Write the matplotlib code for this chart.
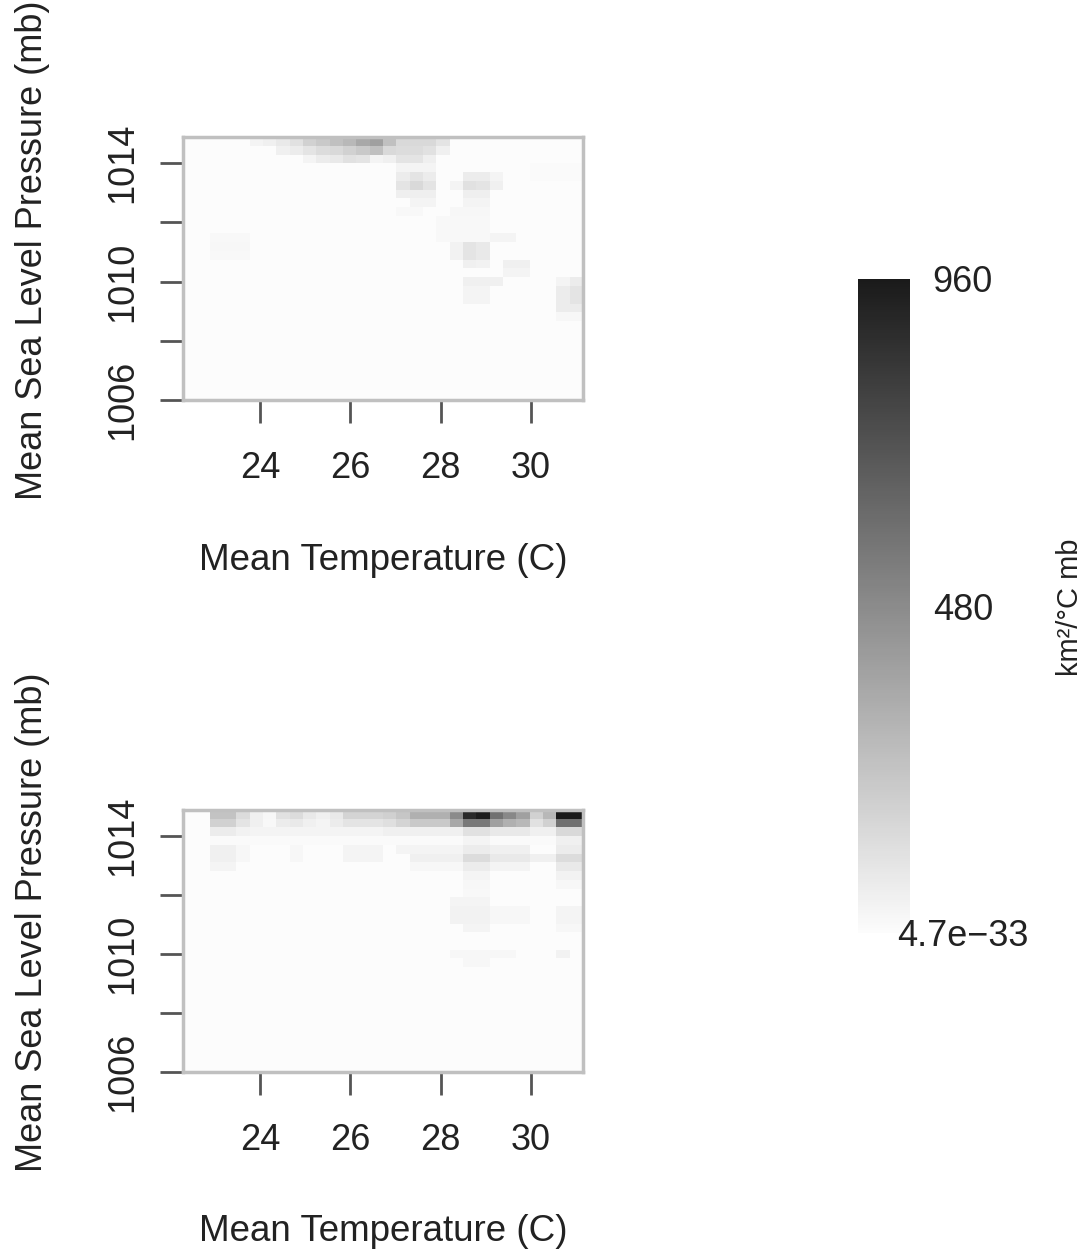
import numpy as np
import matplotlib
matplotlib.use("Agg")
import matplotlib.pyplot as plt
from matplotlib.colors import LinearSegmentedColormap, Normalize
from matplotlib.cm import ScalarMappable

plt.rcParams['font.family'] = ['Liberation Sans', 'DejaVu Sans']

# grid of the density surface: 30 temperature bins x 30 pressure bins
temp_edges = np.linspace(22.3, 31.15, 31)
pres_edges = np.linspace(1014.88, 1006.0, 31)   # row 0 is the top row

floor_value = 4.7e-33
max_value = 960

# non-empty cells: (row from top, first column, last column, km2/C mb)
upper_cells = [
    (0, 5, 5, 34), (0, 6, 6, 51), (0, 7, 7, 85), (0, 8, 8, 119), (0, 9, 9, 187),
    (0, 10, 10, 221), (0, 11, 11, 255), (0, 12, 12, 289), (0, 13, 13, 357),
    (0, 14, 14, 391), (0, 15, 15, 255), (0, 16, 18, 153), (0, 19, 19, 102),
    (1, 7, 7, 51), (1, 8, 8, 68), (1, 9, 9, 102), (1, 10, 10, 136), (1, 11, 11, 153),
    (1, 12, 12, 187), (1, 13, 13, 221), (1, 14, 14, 255), (1, 15, 15, 153),
    (1, 16, 17, 136), (1, 18, 18, 119), (1, 19, 19, 51),
    (2, 9, 9, 34), (2, 10, 10, 68), (2, 11, 11, 85), (2, 12, 12, 119), (2, 13, 13, 102),
    (2, 14, 14, 34), (2, 15, 15, 51), (2, 16, 17, 102), (2, 18, 18, 59),
    (3, 16, 18, 34), (3, 26, 29, 10),
    (4, 16, 16, 68), (4, 17, 17, 102), (4, 18, 18, 68), (4, 21, 22, 68), (4, 23, 23, 34),
    (4, 26, 29, 10),
    (5, 16, 16, 102), (5, 17, 17, 153), (5, 18, 18, 102), (5, 20, 20, 34),
    (5, 21, 21, 119), (5, 22, 22, 102), (5, 23, 23, 51),
    (6, 16, 18, 59), (6, 21, 22, 59),
    (7, 17, 18, 34), (7, 21, 22, 34),
    (8, 16, 17, 17), (8, 20, 22, 25),
    (9, 19, 22, 17), (10, 19, 22, 17), (11, 19, 22, 17), (11, 23, 24, 34),
    (11, 2, 4, 17), (12, 2, 4, 25), (13, 2, 4, 17),
    (12, 20, 20, 42), (12, 21, 21, 102), (12, 22, 22, 85),
    (13, 20, 20, 42), (13, 21, 21, 102), (13, 22, 22, 85),
    (14, 21, 21, 51), (14, 22, 22, 42), (14, 24, 25, 51), (15, 24, 25, 34),
    (16, 21, 23, 51), (16, 28, 28, 34), (16, 29, 29, 68),
    (17, 21, 22, 34), (17, 28, 28, 68), (17, 29, 29, 102),
    (18, 21, 22, 34), (18, 28, 28, 68), (18, 29, 29, 102),
    (19, 28, 29, 68), (20, 28, 29, 25),
]

lower_cells = [
    (0, 2, 3, 240), (0, 4, 4, 136), (0, 5, 5, 51), (0, 6, 6, 25), (0, 7, 7, 119),
    (0, 8, 8, 136), (0, 9, 9, 85), (0, 10, 10, 51), (0, 11, 11, 85), (0, 12, 14, 170),
    (0, 15, 15, 190), (0, 16, 16, 230), (0, 17, 19, 323), (0, 20, 20, 480),
    (0, 21, 21, 890), (0, 22, 22, 945), (0, 23, 23, 595), (0, 24, 24, 493),
    (0, 25, 25, 391), (0, 26, 26, 187), (0, 27, 27, 289), (0, 28, 28, 960),
    (0, 29, 29, 955),
    (1, 2, 3, 187), (1, 4, 4, 102), (1, 5, 5, 51), (1, 6, 6, 17), (1, 7, 7, 68),
    (1, 8, 8, 85), (1, 9, 9, 51), (1, 10, 10, 34), (1, 11, 11, 68), (1, 12, 14, 102),
    (1, 15, 15, 127), (1, 16, 16, 170), (1, 17, 19, 221), (1, 20, 20, 357),
    (1, 21, 22, 561), (1, 23, 23, 391), (1, 24, 24, 323), (1, 25, 25, 289),
    (1, 26, 26, 119), (1, 27, 27, 187), (1, 28, 29, 595),
    (2, 2, 3, 68), (2, 4, 4, 42), (2, 5, 14, 34), (2, 15, 20, 51), (2, 21, 22, 119),
    (2, 23, 25, 85), (2, 26, 27, 51), (2, 28, 29, 153),
    (3, 2, 20, 8), (3, 21, 22, 34), (3, 23, 27, 10), (3, 28, 29, 51),
    (4, 2, 3, 51), (4, 4, 4, 25), (4, 8, 8, 25), (4, 12, 14, 34), (4, 16, 20, 34),
    (4, 21, 22, 68), (4, 23, 25, 51), (4, 28, 29, 68),
    (5, 2, 3, 51), (5, 4, 4, 25), (5, 8, 8, 25), (5, 12, 14, 34), (5, 17, 20, 51),
    (5, 21, 22, 136), (5, 23, 25, 85), (5, 26, 27, 51), (5, 28, 29, 136),
    (6, 2, 3, 34), (6, 17, 20, 25), (6, 21, 22, 68), (6, 23, 25, 34), (6, 28, 29, 85),
    (7, 21, 22, 34), (7, 28, 29, 42),
    (8, 21, 22, 25), (8, 28, 29, 25),
    (9, 21, 22, 17), (10, 20, 22, 34),
    (11, 20, 22, 42), (12, 20, 22, 42), (13, 21, 22, 34),
    (11, 23, 25, 25), (12, 23, 25, 25),
    (11, 28, 29, 34), (12, 28, 29, 34), (13, 28, 29, 25),
    (16, 20, 24, 25), (16, 28, 28, 42), (17, 21, 22, 25),
]

x_ticks = [24, 26, 28, 30]
y_ticks = [1006, 1008, 1010, 1012, 1014]
y_labels = ['1006', '', '1010', '', '1014']
cbar_ticks = [floor_value, 480, 960]
cbar_labels = ['4.7e\u221233', '480', '960']


def build_grid(cells):
    grid = np.full((len(pres_edges) - 1, len(temp_edges) - 1), floor_value)
    for row, c0, c1, val in cells:
        grid[row, c0:c1 + 1] = val
    return grid


cmap = LinearSegmentedColormap.from_list('grey_ramp', ['#fcfcfc', '#1a1a1a'])
norm = Normalize(vmin=0, vmax=max_value)

fig = plt.figure(figsize=(10.9, 12.54), dpi=100)

panel_pos = [
    [183 / 1090, 1 - 400 / 1254, 400 / 1090, 263 / 1254],
    [183 / 1090, 1 - 1072 / 1254, 400 / 1090, 262 / 1254],
]

for pos, cells in zip(panel_pos, [upper_cells, lower_cells]):
    ax = fig.add_axes(pos)
    ax.pcolormesh(temp_edges, pres_edges, build_grid(cells), cmap=cmap, norm=norm,
                  shading='flat')
    ax.set_xlim(22.3, 31.15)
    ax.set_ylim(1006, 1014.88)
    for sp in ax.spines.values():
        sp.set_color('#c0c0c0')
        sp.set_linewidth(2.5)
    ax.set_xticks(x_ticks)
    ax.set_xticklabels([str(t) for t in x_ticks])
    ax.set_yticks(y_ticks)
    ax.set_yticklabels(y_labels)
    ax.tick_params(axis='both', length=16.5, width=2, color='#555555',
                   labelsize=26, labelcolor='#222222')
    ax.tick_params(axis='x', pad=20)
    ax.tick_params(axis='y', pad=14, labelrotation=90)
    for lab in ax.get_yticklabels():
        lab.set_verticalalignment('center')
    ax.set_xlabel('Mean Temperature (C)', fontsize=26.5, color='#222222', va='center')
    ax.xaxis.set_label_coords(0.5, (400 - 560) / 263)
    ax.set_ylabel('Mean Sea Level Pressure (mb)', fontsize=26, color='#222222',
                  va='center')
    ax.yaxis.set_label_coords((33 - 183) / 400, 0.57)

# colour ramp legend
cax = fig.add_axes([858 / 1090, 1 - 933 / 1254, 52 / 1090, 654 / 1254])
cb = fig.colorbar(ScalarMappable(norm=norm, cmap=cmap), cax=cax)
cb.outline.set_visible(False)
cb.set_ticks(cbar_ticks)
cb.set_ticklabels(cbar_labels)
cax.tick_params(length=0, pad=38, labelsize=26, labelcolor='#222222')
for lab in cax.get_yticklabels():
    lab.set_horizontalalignment('center')
fig.text(1070 / 1090, 1 - 607 / 1254, 'km\u00b2/\u00b0C mb', rotation=90,
         ha='center', va='center', fontsize=21, color='#222222')

fig.savefig('out.png', dpi=100)
